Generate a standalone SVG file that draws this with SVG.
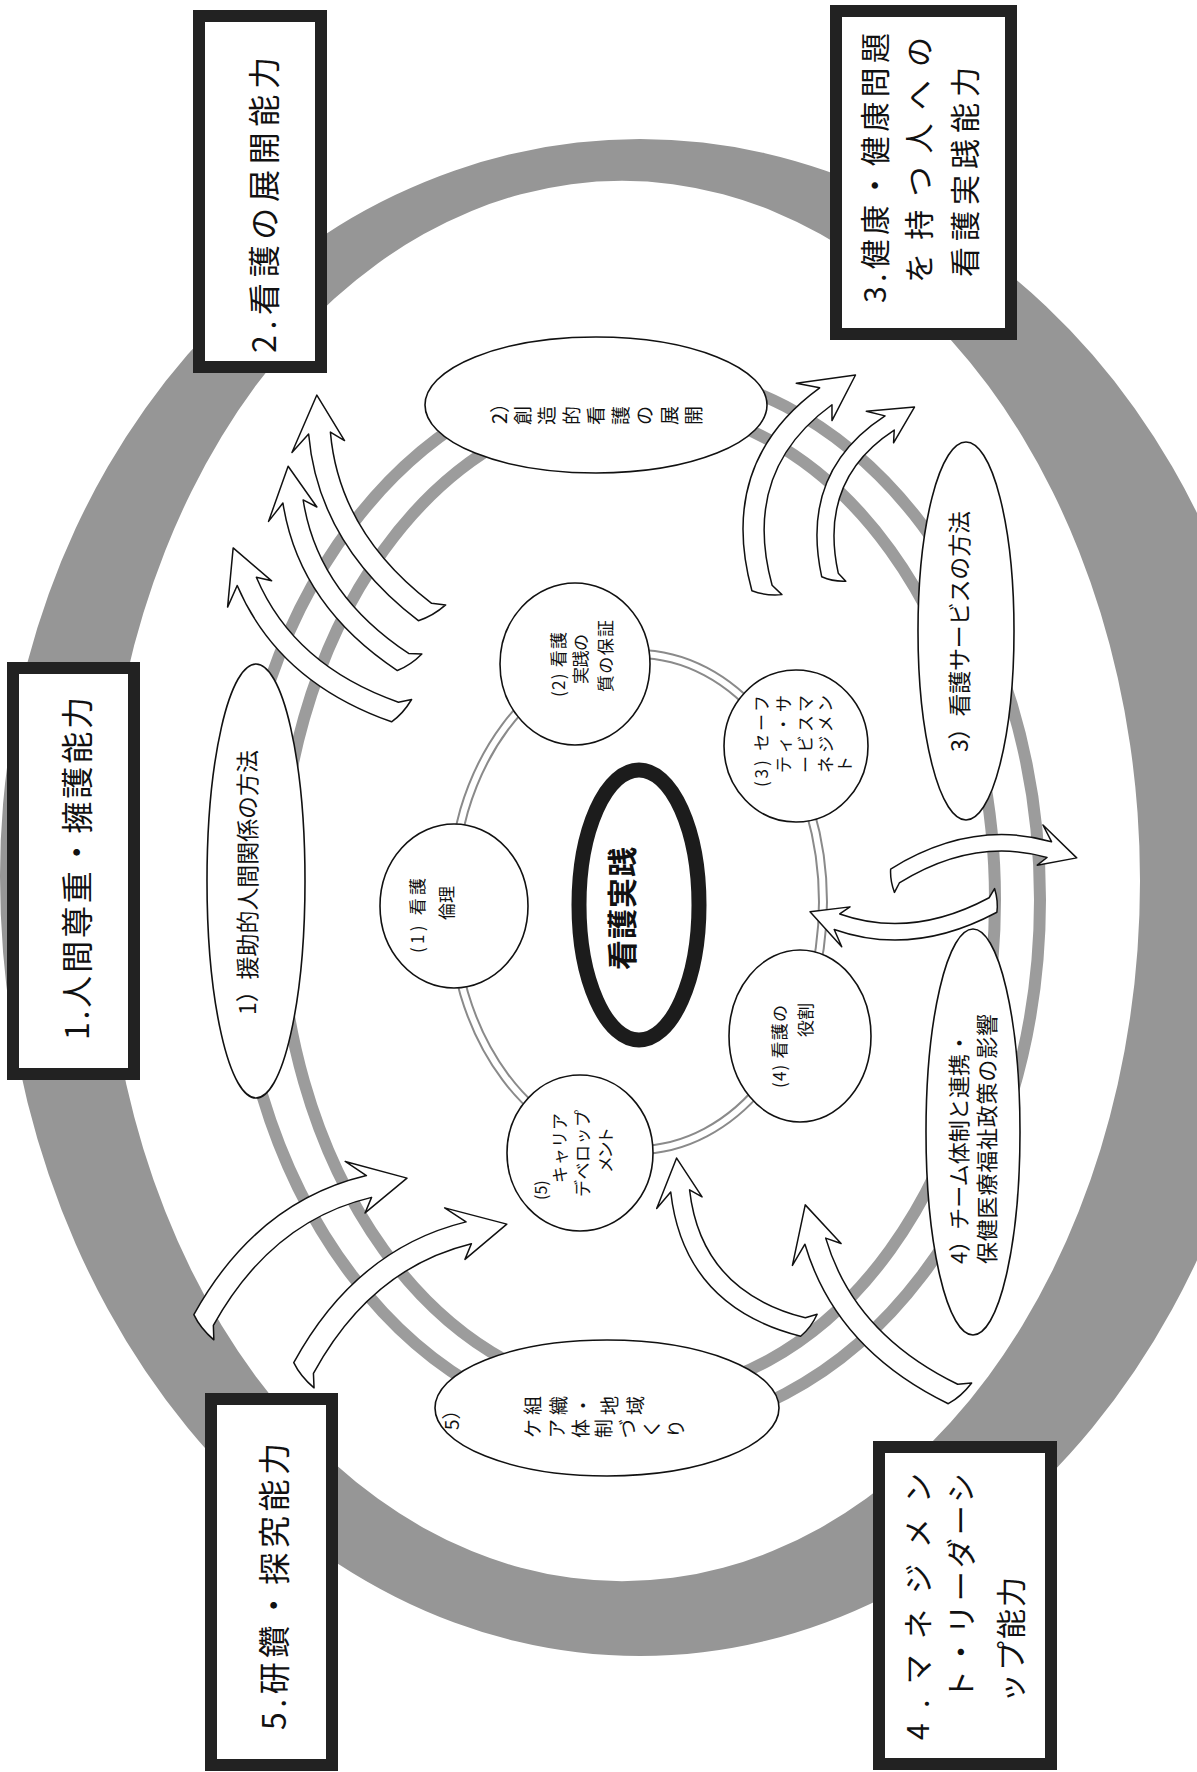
<svg xmlns="http://www.w3.org/2000/svg" xmlns:xlink="http://www.w3.org/1999/xlink" width="1197" height="1772" viewBox="0 0 1197 1772">
<style>
text{font-family:"Noto Sans CJK JP","Noto Sans",sans-serif;fill:#111;dominant-baseline:central}
.box{fill:#fff;stroke:#222;stroke-width:12}
.el{fill:#fff;stroke:#111;stroke-width:1.6}
.band{fill:none;stroke:#9c9c9c;stroke-width:12}
.thin{fill:none;stroke:#8a8a8a;stroke-width:2}
.arr{fill:#fff;stroke:#111;stroke-width:1.5;vector-effect:non-scaling-stroke;stroke-linejoin:round}
</style>
<defs>
<path id="a10" class="arr" d="M-1.98,-4.04 Q44.81,-26.91 87.16,-10.19 L83.4,-19.75 L100,0 L78.1,1.84 L83.84,-1.81 Q45.19,-17.09 1.98,4.04 L-1.19,8.93 Q-3,2 -1.98,-4.04 Z"/>
<path id="aB" class="arr" d="M-2.83,-3.5 Q41.58,-39.45 88.77,-11.88 L86.51,-21.89 L100,0 L78.01,-1.39 L84.23,-4.12 Q42.42,-28.55 2.83,3.5 L0.83,8.98 Q-2.5,3 -2.83,-3.5 Z"/>
</defs>
<rect width="1197" height="1772" fill="#fff"/>
<g id="outer-ring">
<path fill="#969696" fill-rule="evenodd" d="M0,876 A640 737 0 0 1 1280,876 A640 780 0 0 1 0,876 Z M104,881 A518 700 0 1 0 1140,881 A518 700 0 1 0 104,881 Z"/>
</g>
<g id="middle-ring">
<ellipse class="band" cx="637" cy="900" rx="403" ry="531"/>
<ellipse class="band" cx="637" cy="900" rx="358" ry="495"/>
</g>
<g id="inner-ring">
<ellipse class="thin" cx="637" cy="902" rx="190" ry="252"/>
<ellipse class="thin" cx="637" cy="902" rx="182" ry="244"/>
</g>
<g id="connectors">
<use xlink:href="#a10" transform="translate(425 612) rotate(-116.5) scale(2.424)"/>
<use xlink:href="#a10" transform="translate(403 662) rotate(-120.4) scale(2.27)"/>
<use xlink:href="#a10" transform="translate(395 712) rotate(-134.6) scale(2.305)"/>
<use xlink:href="#aB" transform="translate(762 588) rotate(-66.3) scale(2.326)"/>
<use xlink:href="#aB" transform="translate(830 575) rotate(-63.3) scale(1.88)"/>
<use xlink:href="#a10" transform="translate(993 905) rotate(177.9) scale(1.831)"/>
<use xlink:href="#a10" transform="translate(895 876) rotate(-5.7) scale(1.826)"/>
<use xlink:href="#a10" transform="translate(953 1394) rotate(-128) scale(2.4)"/>
<use xlink:href="#aB" transform="translate(803 1327) rotate(-126.8) scale(2.11)"/>
<use xlink:href="#a10" transform="translate(203.6 1320) rotate(-34.9) scale(2.48)"/>
<use xlink:href="#a10" transform="translate(303.6 1368) rotate(-35.3) scale(2.49)"/>
</g>
<g id="e1"><ellipse class="el" cx="256" cy="881" rx="49" ry="217"/>
<text transform="translate(246 1015) rotate(-90)" font-size="23" textLength="265" lengthAdjust="spacing">1）援助的人間関係の方法</text></g>
<g id="e2"><ellipse class="el" cx="596" cy="405" rx="171" ry="68"/>
<text transform="translate(498 424) rotate(-90)" font-size="20">2）</text>
<text x="530" y="416.5" rotate="-90" font-size="19" textLength="190" lengthAdjust="spacing">創造的看護の展開</text></g>
<g id="e3"><ellipse class="el" cx="966" cy="631" rx="48" ry="189"/>
<text transform="translate(958 752) rotate(-90)" font-size="23" textLength="241" lengthAdjust="spacing">3）看護サービスの方法</text></g>
<g id="e4"><ellipse class="el" cx="973" cy="1132" rx="47" ry="203"/>
<text transform="translate(957 1264) rotate(-90)" font-size="22" textLength="232" lengthAdjust="spacing">4）チーム体制と連携・</text>
<text transform="translate(985 1264) rotate(-90)" font-size="22" textLength="250" lengthAdjust="spacing">保健医療福祉政策の影響</text></g>
<g id="e5"><ellipse class="el" cx="607" cy="1408" rx="172" ry="68"/>
<text transform="translate(450 1430) rotate(-90)" font-size="19">5）</text>
<text x="540" y="1406.5" rotate="-90" font-size="19" textLength="122" lengthAdjust="spacing">組織・地域</text>
<text x="540" y="1429.5" rotate="-90" font-size="19" textLength="162" lengthAdjust="spacing">ケア体制づくり</text></g>
<g id="c1"><ellipse class="el" cx="454" cy="906" rx="74" ry="82"/>
<text transform="translate(416 953) rotate(-90)" font-size="17" textLength="75" lengthAdjust="spacing">(1) 看護</text>
<text transform="translate(445 920) rotate(-90)" font-size="17">倫理</text></g>
<g id="c2"><ellipse class="el" cx="575" cy="664" rx="75" ry="81"/>
<text transform="translate(557 697) rotate(-90)" font-size="17" textLength="65" lengthAdjust="spacing">(2) 看護</text>
<text transform="translate(579 684) rotate(-90)" font-size="17" textLength="50" lengthAdjust="spacing">実践の</text>
<text transform="translate(604 692) rotate(-90)" font-size="17" textLength="72" lengthAdjust="spacing">質の保証</text></g>
<g id="c3"><ellipse class="el" cx="796" cy="746" rx="72" ry="76"/>
<text transform="translate(760 787) rotate(-90)" font-size="17" textLength="92" lengthAdjust="spacing">(3) セーフ</text>
<text transform="translate(782 773) rotate(-90)" font-size="17" textLength="78" lengthAdjust="spacing">ティ・サ</text>
<text transform="translate(804 773) rotate(-90)" font-size="17" textLength="78" lengthAdjust="spacing">ービスマ</text>
<text transform="translate(824 773) rotate(-90)" font-size="17" textLength="78" lengthAdjust="spacing">ネジメン</text>
<text transform="translate(843 773) rotate(-90)" font-size="17">ト</text></g>
<g id="c4"><ellipse class="el" cx="800" cy="1036" rx="71" ry="86"/>
<text transform="translate(778 1088) rotate(-90)" font-size="17" textLength="83" lengthAdjust="spacing">(4) 看護の</text>
<text transform="translate(804 1037) rotate(-90)" font-size="17">役割</text></g>
<g id="c5"><ellipse class="el" cx="580" cy="1153" rx="73" ry="78"/>
<text transform="translate(540 1200) rotate(-90)" font-size="16">(5)</text>
<text transform="translate(558 1183) rotate(-90)" font-size="17" textLength="70" lengthAdjust="spacing">キャリア</text>
<text transform="translate(581 1197) rotate(-90)" font-size="17" textLength="87" lengthAdjust="spacing">デベロップ</text>
<text transform="translate(604 1173) rotate(-90)" font-size="17" textLength="46" lengthAdjust="spacing">メント</text></g>
<g id="center"><ellipse cx="639" cy="905" rx="60" ry="135" fill="#fff" stroke="#1c1c1c" stroke-width="15"/>
<text transform="translate(620 970) rotate(-90)" font-size="30" font-weight="bold" textLength="123" lengthAdjust="spacing">看護実践</text></g>
<g id="box1"><rect class="box" x="13" y="668" width="121" height="406"/>
<text transform="translate(75 1040) rotate(-90)" font-size="32" textLength="343" lengthAdjust="spacing">1.人間尊重・擁護能力</text></g>
<g id="box2"><rect class="box" x="199" y="16" width="122" height="351"/>
<text transform="translate(262 353) rotate(-90)" font-size="32" textLength="296" lengthAdjust="spacing">2.看護の展開能力</text></g>
<g id="box3"><rect class="box" x="836" y="11" width="175" height="323"/>
<text transform="translate(873 303) rotate(-90)" font-size="30" textLength="270" lengthAdjust="spacing">3.健康・健康問題</text>
<text transform="translate(917 283) rotate(-90)" font-size="30" textLength="246" lengthAdjust="spacing">を持つ人への</text>
<text transform="translate(963 277) rotate(-90)" font-size="30" textLength="210" lengthAdjust="spacing">看護実践能力</text></g>
<g id="box4"><rect class="box" x="879" y="1447" width="172" height="317"/>
<text transform="translate(916 1740) rotate(-90)" font-size="30" textLength="267" lengthAdjust="spacing">4.マネジメン</text>
<text transform="translate(959 1700) rotate(-90)" font-size="30" textLength="227" lengthAdjust="spacing">ト・リーダーシ</text>
<text transform="translate(1009 1703) rotate(-90)" font-size="30" textLength="126" lengthAdjust="spacing">ップ能力</text></g>
<g id="box5"><rect class="box" x="211" y="1399" width="121" height="366"/>
<text transform="translate(272 1730) rotate(-90)" font-size="32" textLength="287" lengthAdjust="spacing">5.研鑽・探究能力</text></g>
</svg>
